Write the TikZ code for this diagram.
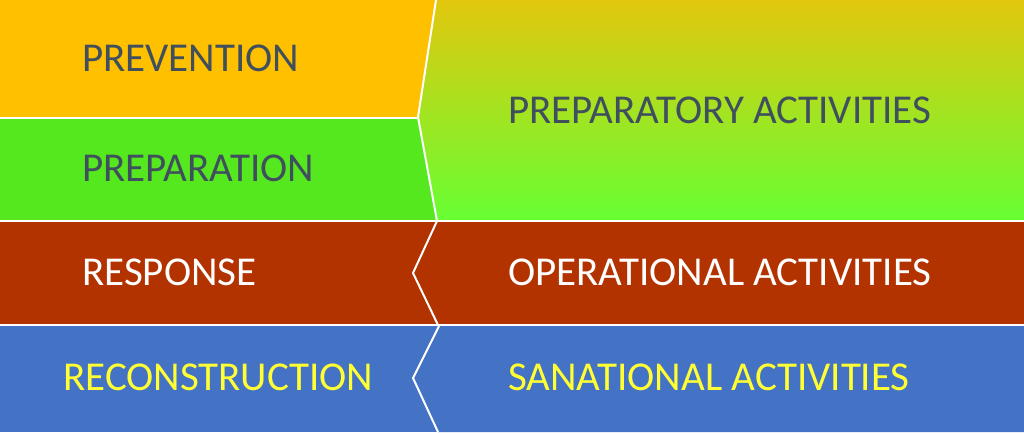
\documentclass[tikz,border=0pt]{standalone}
\usepackage{fontspec}
\setmainfont{Carlito}
\begin{document}
\begin{tikzpicture}[x=1pt,y=-1pt,
  lbl/.style={anchor=west,font=\fontsize{41}{46}\selectfont,inner sep=0pt},
  sep/.style={draw=white,line width=2pt}]
\definecolor{txt}{HTML}{404F5E}
\definecolor{orng}{HTML}{FFC000}
\definecolor{grn}{HTML}{55E81F}
\definecolor{rust}{HTML}{B33300}
\definecolor{blu}{HTML}{4472C4}
\definecolor{gtop}{HTML}{E2C70E}
\definecolor{gbot}{HTML}{66FF33}
\definecolor{yel}{HTML}{FFFF33}
\useasboundingbox (0,0) rectangle (1024,432);
% left blocks
\fill[orng] (0,0) rectangle (436,118);
\fill[grn] (0,118) rectangle (437,221);
\fill[rust] (0,221) rectangle (438,325);
\fill[blu] (0,325) rectangle (439,432);
% right blocks
\shade[top color=gtop,bottom color=gbot] (436,0) -- (1024,0) -- (1024,221) -- (437,221) -- (418,117) -- cycle;
\fill[rust] (437,221) -- (1024,221) -- (1024,325) -- (438,325) -- (413,273) -- cycle;
\fill[blu] (439,325) -- (1024,325) -- (1024,432) -- (438,432) -- (413,378) -- cycle;
% separators
\draw[sep] (0,118) -- (418,118);
\draw[sep] (0,221) -- (1024,221);
\draw[sep] (0,325) -- (1024,325);
\draw[sep] (436,0) -- (418,117) -- (437,221);
\draw[sep] (437,221) -- (413,273) -- (438,325);
\draw[sep] (439,326) -- (413,378) -- (438,432);
% labels
\node[lbl,text=txt] (prev) at (82,58) {PREVENTION};
\node[lbl,text=txt] (prep) at (82,168) {PREPARATION};
\node[lbl,text=white] (resp) at (82,272) {RESPONSE};
\node[lbl,text=yel] (reco) at (63,377) {RECONSTRUCTION};
\node[lbl,text=txt] (pa) at (508,110) {PREPARATORY ACTIVITIES};
\node[lbl,text=white] (oa) at (508,272) {OPERATIONAL ACTIVITIES};
\node[lbl,text=yel] (sa) at (508,377) {SANATIONAL ACTIVITIES};
\end{tikzpicture}
\end{document}
